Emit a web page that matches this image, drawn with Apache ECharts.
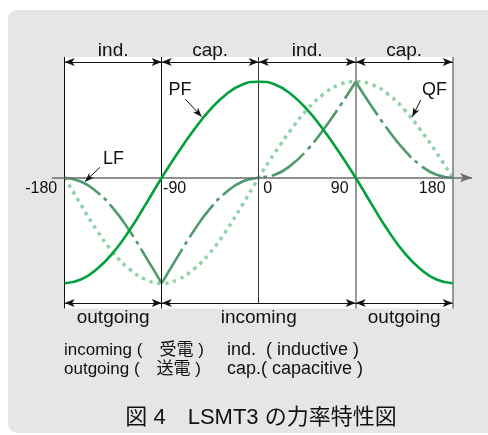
<!DOCTYPE html>
<html>
<head>
<meta charset="utf-8">
<script src="https://cdn.jsdelivr.net/npm/echarts@6/dist/echarts.min.js"></script>
<style>
html,body{margin:0;padding:0;background:#fff}
#chart{width:488px;height:435px}
</style>
</head>
<body>
<div id="chart"></div>
<script>
// phase angle (deg) and factor values
var angles = [-180,-165,-150,-135,-120,-105,-90,-75,-60,-45,-30,-15,0,15,30,45,60,75,90,105,120,135,150,165,180];
var pfValues = [-1.1,-1.06,-0.95,-0.78,-0.55,-0.28,0,0.26,0.5,0.71,0.87,0.97,1,0.97,0.87,0.71,0.5,0.26,0,-0.28,-0.55,-0.78,-0.95,-1.06,-1.1];
var qfValues = [0,-0.28,-0.55,-0.78,-0.95,-1.06,-1.1,-1.06,-0.95,-0.78,-0.55,-0.28,0,0.26,0.5,0.71,0.87,0.97,1,0.97,0.87,0.71,0.5,0.26,0];
var lfValues = [0,-0.04,-0.15,-0.32,-0.55,-0.82,-1.1,-0.82,-0.55,-0.32,-0.15,-0.04,0,0.03,0.13,0.29,0.5,0.74,1,0.74,0.5,0.29,0.13,0.03,0];

var tickValues = [-180,-90,0,90,180];
var tickLabels = ['-180','-90','0','90','180'];
var topBands = ['ind.','cap.','ind.','cap.'];
var bottomEdges = [-180,-90,90,180];
var bottomBands = ['outgoing','incoming','outgoing'];

var FONT = '"Liberation Sans", Arial, "Noto Sans CJK JP", sans-serif';
var frameTop = 1.257, frameBottom = -1.362, arrowTop = 1.205, arrowBottom = -1.305;

function pairs(vals, from, to) {
  var out = [];
  for (var i = from; i <= to; i++) out.push([angles[i], vals[i]]);
  return out;
}

// tick label nudges (labels sit beside the grid lines, not centred on them)
var tickPad = [[0,47,0,0],[0,0,0,26],[0,0,0,18],[0,32,0,0],[0,41,0,0]];
var tickRich = {};
tickPad.forEach(function (p, i) {
  tickRich['t' + i] = {padding: p, fontSize: 16, fontFamily: FONT, color: '#111'};
});

var lineColors = ['#111','#111','#333','#808080','#808080'];
var frameLines = tickValues.map(function (v, i) {
  return [
    {coord: [v, frameTop], lineStyle: {color: lineColors[i], width: i > 2 ? 1.6 : 1, type: 'solid'}},
    {coord: [v, v === 0 ? arrowBottom : frameBottom]}
  ];
});

var bandArrows = [];
for (var i = 0; i < topBands.length; i++) {
  bandArrows.push([
    {coord: [tickValues[i], arrowTop],
     label: {show: true, formatter: topBands[i], position: 'insideMiddleTop', distance: 2,
             fontSize: 19, fontFamily: FONT, color: '#111'}},
    {coord: [tickValues[i + 1], arrowTop]}
  ]);
}
for (var j = 0; j < bottomBands.length; j++) {
  bandArrows.push([
    {coord: [bottomEdges[j], arrowBottom],
     label: {show: true, formatter: bottomBands[j], position: 'insideMiddleBottom', distance: 5,
             fontSize: 19, fontFamily: FONT, color: '#111'}},
    {coord: [bottomEdges[j + 1], arrowBottom]}
  ]);
}

var lfStyle = {color: '#4e9a6d', width: 2.6, type: [40, 5, 4, 5]};
function lfPart(from, to) {
  return {
    name: 'LF', type: 'line', z: 4, smooth: true, symbol: 'none', silent: true,
    data: pairs(lfValues, from, to), lineStyle: lfStyle
  };
}

function note(x, y, text, size) {
  return {type: 'text', x: x, y: y, style: {text: text, font: size + 'px ' + FONT, fill: '#111',
    textVerticalAlign: 'middle', verticalAlign: 'middle'}};
}

var myChart = echarts.init(document.getElementById('chart'));
var option = {
  backgroundColor: '#fff',
  animation: false,
  grid: {left: 0, right: 0, top: 0, bottom: 0, containLabel: false, outerBoundsMode: 'none'},
  xAxis: {
    type: 'value', min: -240, max: 212.75, z: 10,
    position: 'bottom', offset: -257.3,
    axisLine: {show: false, onZero: false},
    axisTick: {show: false},
    splitLine: {show: false},
    axisLabel: {
      customValues: tickValues, margin: 3,
      formatter: function (v) {
        var k = tickValues.indexOf(v);
        return '{t' + k + '|' + tickLabels[k] + '}';
      },
      rich: tickRich
    }
  },
  yAxis: {type: 'value', min: -2.68, max: 1.851, show: false},
  graphic: [
    {type: 'rect', z: -100, shape: {x: 8, y: 10, width: 495, height: 423, r: 9},
     style: {fill: '#e6e6e6'}},
    note(64, 350, 'incoming (\u3000受電 )', 17),
    note(64, 369, 'outgoing (\u3000送電 )', 17),
    note(227, 350, 'ind.  ( inductive )', 18),
    note(227, 369, 'cap.( capacitive )', 18),
    {type: 'text', x: 261, y: 418, style: {text: '図 4\u3000LSMT3 の力率特性図', font: '22px ' + FONT, fill: '#111',
      textAlign: 'center', align: 'center', textVerticalAlign: 'middle', verticalAlign: 'middle'}}
  ],
  series: [
    {
      name: 'bg', type: 'line', z: 1, data: [], silent: true,
      markArea: {
        silent: true, itemStyle: {color: '#fff'}, label: {show: false},
        data: [[{coord: [-180, frameTop]}, {coord: [180, frameBottom]}]]
      }
    },
    {
      name: 'frame', type: 'line', z: 2, data: [], silent: true,
      markLine: {silent: true, symbol: 'none', label: {show: false}, animation: false, data: frameLines}
    },
    {
      name: 'bands', type: 'line', z: 2, data: [], silent: true,
      markLine: {
        silent: true, symbol: ['arrow', 'arrow'], symbolSize: [6, 10], animation: false,
        lineStyle: {color: '#111', width: 1, type: 'solid'},
        data: bandArrows
      }
    },
    {
      name: 'axis', type: 'line', z: 2, data: [], silent: true,
      markLine: {
        silent: true, symbol: ['none', 'arrow'], symbolSize: [7, 12], animation: false,
        label: {show: false},
        lineStyle: {color: '#6b6b6b', width: 1.6, type: 'solid'},
        data: [[{coord: [-191.8, 0]}, {coord: [197.9, 0]}]]
      }
    },
    {
      name: 'QF', type: 'line', z: 3, smooth: true, symbol: 'none', silent: true,
      data: pairs(qfValues, 0, angles.length - 1),
      lineStyle: {color: '#8fd3a6', width: 3.5, type: [3.5, 4.5]}
    },
    lfPart(0, 6), lfPart(6, 18), lfPart(18, 24),
    {
      name: 'PF', type: 'line', z: 5, smooth: true, symbol: 'none', silent: true,
      data: pairs(pfValues, 0, angles.length - 1),
      lineStyle: {color: '#00a03c', width: 2.6}
    },
    {
      name: 'notes', type: 'line', z: 6, data: [], silent: true,
      markLine: {
        silent: true, symbol: ['none', 'arrow'], symbolSize: [5, 9], animation: false,
        label: {show: false},
        lineStyle: {color: '#111', width: 1, type: 'solid'},
        data: [
          [{coord: [-67.9, 0.817]}, {coord: [-52.9, 0.635]}],
          [{coord: [150.3, 0.809]}, {coord: [142.5, 0.635]}],
          [{coord: [-147.3, 0.108]}, {coord: [-161.2, -0.042]}]
        ]
      },
      markPoint: {
        silent: true, symbol: 'circle', symbolSize: 0, animation: false,
        label: {show: true, position: 'inside', formatter: '{b}', fontSize: 18, fontFamily: FONT, color: '#111'},
        data: [
          {name: 'PF', coord: [-73, 0.914]},
          {name: 'QF', coord: [163.1, 0.914]},
          {name: 'LF', coord: [-134.7, 0.195]}
        ]
      }
    }
  ]
};
myChart.setOption(option);
</script>
</body>
</html>
